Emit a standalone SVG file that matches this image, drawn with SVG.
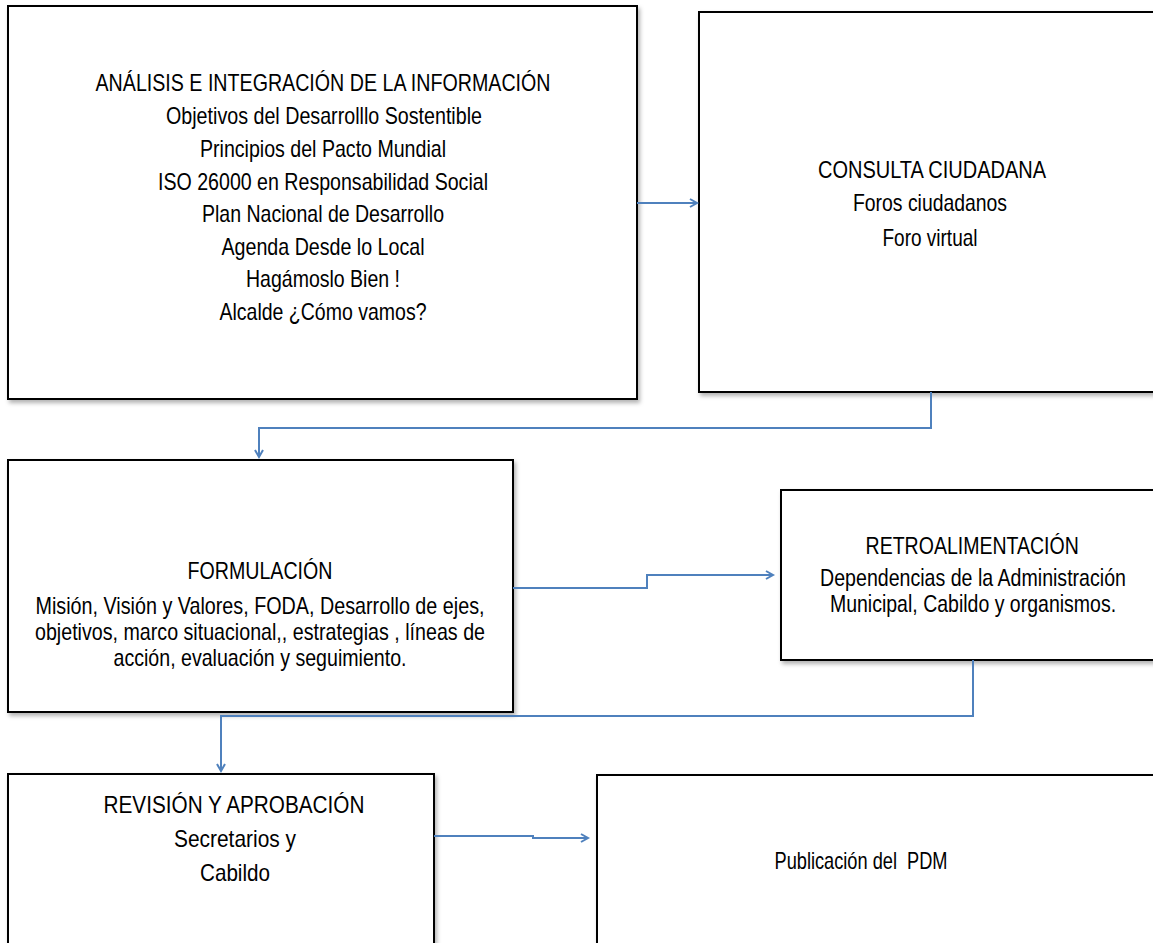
<svg xmlns="http://www.w3.org/2000/svg" width="1153" height="943" viewBox="0 0 1153 943">
<style>
.box{fill:#fff;stroke:#000;stroke-width:2;filter:url(#sh)}
.t{font-family:"Liberation Sans Narrow","Liberation Sans",Arial,sans-serif;font-size:24px;fill:#000;text-anchor:middle}
.c{fill:none;stroke:#4F81BD;stroke-width:2;marker-end:url(#ah)}
</style>
<defs>
<filter id="sh" x="-5%" y="-5%" width="110%" height="115%">
<feDropShadow dx="2" dy="3" stdDeviation="2" flood-color="#000" flood-opacity="0.3"/>
</filter>
<marker id="ah" markerUnits="userSpaceOnUse" markerWidth="12" markerHeight="12" refX="9" refY="5" orient="auto">
<path d="M2,1 L9,5 L2,9" fill="none" stroke="#4F81BD" stroke-width="2"/>
</marker>
</defs>
<g id="n1">
<rect class="box" x="8" y="6" width="629" height="393"/>
<text class="t" x="323" y="91" textLength="455" lengthAdjust="spacingAndGlyphs">ANÁLISIS E INTEGRACIÓN DE LA INFORMACIÓN</text>
<text class="t" x="324" y="124" textLength="316" lengthAdjust="spacingAndGlyphs">Objetivos del Desarrolllo Sostentible</text>
<text class="t" x="323" y="157" textLength="246" lengthAdjust="spacingAndGlyphs">Principios del Pacto Mundial</text>
<text class="t" x="323" y="190" textLength="330" lengthAdjust="spacingAndGlyphs">ISO 26000 en Responsabilidad Social</text>
<text class="t" x="323" y="222" textLength="242" lengthAdjust="spacingAndGlyphs">Plan Nacional de Desarrollo</text>
<text class="t" x="323" y="255" textLength="203" lengthAdjust="spacingAndGlyphs">Agenda Desde lo Local</text>
<text class="t" x="323" y="287" textLength="154" lengthAdjust="spacingAndGlyphs">Hagámoslo Bien !</text>
<text class="t" x="323" y="320" textLength="207" lengthAdjust="spacingAndGlyphs">Alcalde ¿Cómo vamos?</text>
</g>
<g id="n2">
<rect class="box" x="699" y="12" width="470" height="380"/>
<text class="t" x="932" y="178" textLength="228" lengthAdjust="spacingAndGlyphs">CONSULTA CIUDADANA</text>
<text class="t" x="930" y="211" textLength="154" lengthAdjust="spacingAndGlyphs">Foros ciudadanos</text>
<text class="t" x="930" y="246" textLength="95" lengthAdjust="spacingAndGlyphs">Foro virtual</text>
</g>
<g id="n3">
<rect class="box" x="8" y="460" width="505" height="252"/>
<text class="t" x="260" y="579" textLength="145" lengthAdjust="spacingAndGlyphs">FORMULACIÓN</text>
<text class="t" x="260" y="614" textLength="449" lengthAdjust="spacingAndGlyphs">Misión, Visión y Valores, FODA, Desarrollo de ejes,</text>
<text class="t" x="260" y="640" textLength="450" lengthAdjust="spacingAndGlyphs">objetivos, marco situacional,, estrategias , líneas de</text>
<text class="t" x="260" y="666" textLength="293" lengthAdjust="spacingAndGlyphs">acción, evaluación y seguimiento.</text>
</g>
<g id="n4">
<rect class="box" x="781" y="490" width="390" height="170"/>
<g transform="translate(973,0) scale(0.82,1)">
<text class="t" x="-1" y="554" textLength="260" lengthAdjust="spacingAndGlyphs">RETROALIMENTACIÓN</text>
<text class="t" x="0" y="586" textLength="373" lengthAdjust="spacingAndGlyphs">Dependencias de la Administración</text>
<text class="t" x="0" y="612" textLength="349" lengthAdjust="spacingAndGlyphs">Municipal, Cabildo y organismos.</text>
</g>
</g>
<g id="n5">
<rect class="box" x="8" y="774" width="426" height="190"/>
<text class="t" x="234" y="813" textLength="261" lengthAdjust="spacingAndGlyphs">REVISIÓN Y APROBACIÓN</text>
<text class="t" x="235" y="847" textLength="122" lengthAdjust="spacingAndGlyphs">Secretarios y</text>
<text class="t" x="235" y="881" textLength="70" lengthAdjust="spacingAndGlyphs">Cabildo</text>
</g>
<g id="n6">
<rect class="box" x="597" y="775" width="580" height="190"/>
<text class="t" x="861" y="869" textLength="173" lengthAdjust="spacingAndGlyphs" xml:space="preserve">Publicación del  PDM</text>
</g>
<g id="connectors">
<path class="c" d="M637,203 H697"/>
<path class="c" d="M931,392 V428 H259 V457"/>
<path class="c" d="M513,588 H647 V575 H773"/>
<path class="c" d="M973,660 V716 H221 V771"/>
<path class="c" d="M434,836 H533 V838 H588"/>
</g>
</svg>
